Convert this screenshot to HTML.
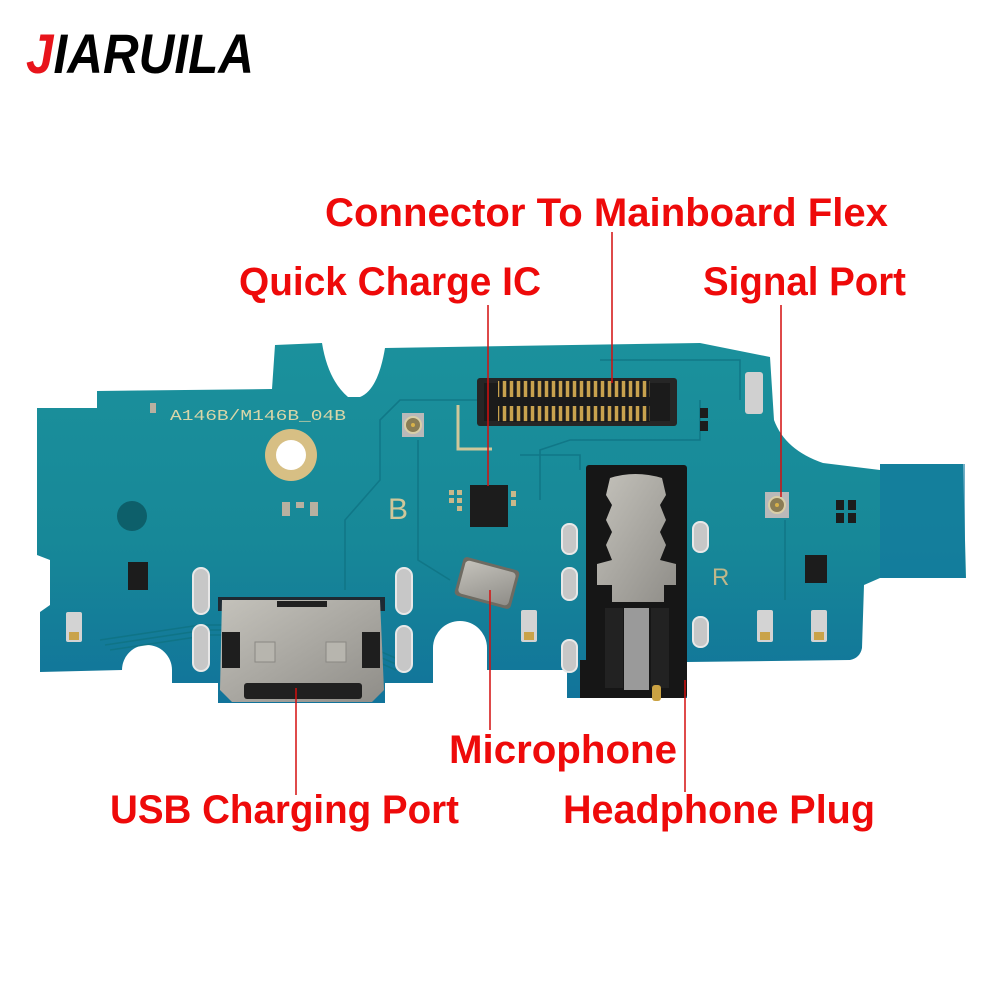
<!DOCTYPE html>
<html><head><meta charset="utf-8"><style>
html,body{margin:0;padding:0;background:#fff;}
svg{display:block}
.lb{font-family:"Liberation Sans Narrow","Liberation Sans",sans-serif;font-weight:bold;fill:#ee0a0a;}
</style></head><body>
<svg width="1000" height="1000" viewBox="0 0 1000 1000" xmlns="http://www.w3.org/2000/svg">
<defs>
<linearGradient id="bd" x1="0" y1="340" x2="0" y2="705" gradientUnits="userSpaceOnUse">
<stop offset="0" stop-color="#1b919c"/><stop offset="0.55" stop-color="#178898"/><stop offset="1" stop-color="#11739a"/>
</linearGradient>
<linearGradient id="mt" x1="0" y1="0" x2="1" y2="1">
<stop offset="0" stop-color="#c4c2bb"/><stop offset="1" stop-color="#8f8d88"/>
</linearGradient>
</defs>
<text x="26" y="73" font-family="Liberation Sans, sans-serif" font-weight="bold" font-style="italic" font-size="56" textLength="228" lengthAdjust="spacingAndGlyphs"><tspan fill="#e8141b">J</tspan><tspan fill="#000">IARUILA</tspan></text>

<path fill="url(#bd)" d="M37,408 L97,408 L97,391 L272,389 L275,345 L322,343 Q328,380 348,397 L360,397 Q378,390 385,348 L700,343 L770,357 L774,420 Q785,450 823,463 L880,470 L880,464 L963,464 L966,578 L880,578 L864,585 L862,648 Q860,658 850,660 L687,662 L687,698 L567,698 L567,670 L487,670 L487,648 A27,27 0 0 0 433,648 L433,683 L385,683 L385,703 L218,703 L218,683 L172,683 L172,670 A25,25 0 0 0 122,670 L40,672 L40,612 L50,605 L50,560 L37,555 Z"/>
<rect x="880" y="464" width="85" height="114" fill="#12789e" opacity="0.6"/>

<g fill="none" stroke="#0f7383" stroke-width="1.6" opacity="0.8">
<path d="M100,640 L200,625 L320,625 L400,660"/>
<path d="M105,645 L205,630 L318,630 L398,665"/>
<path d="M110,650 L210,635 L316,635 L396,670"/>
<path d="M345,590 L345,520 L380,480 L380,420 L400,400 L520,400"/>
<path d="M418,440 L418,560 L450,580"/>
<path d="M540,500 L540,450 L570,440 L700,440 L700,400"/>
<path d="M785,520 L785,600"/>
<path d="M600,360 L740,360 L740,400"/>
<path d="M520,455 L580,455 L580,470"/>
</g>

<text x="170" y="420" font-family="Liberation Mono, monospace" font-size="15" fill="#d9d6a8" textLength="176" lengthAdjust="spacingAndGlyphs">A146B/M146B_04B</text>
<text x="388" y="519" font-family="Liberation Sans, sans-serif" font-size="30" fill="#cfc79a">B</text>
<text x="712" y="585" font-family="Liberation Sans, sans-serif" font-size="24" fill="#bfb78a">R</text>
<path d="M458,405 L458,449 L492,449" stroke="#cfc79a" stroke-width="3" fill="none"/>

<circle cx="291" cy="455" r="26" fill="#d7bf84"/>
<circle cx="291" cy="455" r="15" fill="#fff"/>
<circle cx="132" cy="516" r="15" fill="#0d5f6a"/>

<rect x="477" y="378" width="200" height="48" rx="3" fill="#262626"/>
<rect x="484" y="383" width="186" height="38" fill="#1b1b1b"/>
<g fill="#c8a24e">
<rect x="498" y="381" width="152" height="16"/>
<rect x="498" y="406" width="152" height="15"/>
</g>
<g stroke="#1b1b1b" stroke-width="3.5">
<path d="M501,380V422M508,380V422M515,380V422M522,380V422M529,380V422M536,380V422M543,380V422M550,380V422M557,380V422M564,380V422M571,380V422M578,380V422M585,380V422M592,380V422M599,380V422M606,380V422M613,380V422M620,380V422M627,380V422M634,380V422M641,380V422M648,380V422"/>
</g>

<rect x="470" y="485" width="38" height="42" fill="#1c1c1c"/>
<g fill="#c9b88a"><rect x="449" y="490" width="5" height="5"/><rect x="457" y="490" width="5" height="5"/><rect x="449" y="498" width="5" height="5"/><rect x="457" y="498" width="5" height="5"/><rect x="457" y="506" width="5" height="5"/><rect x="511" y="491" width="5" height="6"/><rect x="511" y="500" width="5" height="6"/></g>

<rect x="402" y="413" width="22" height="24" fill="#b9b9b9"/>
<circle cx="413" cy="425" r="8" fill="#8a7d55" stroke="#d9cfa8" stroke-width="2"/>
<circle cx="413" cy="425" r="2" fill="#d8b24a"/>
<rect x="765" y="492" width="24" height="26" fill="#b9b9b9"/>
<circle cx="777" cy="505" r="8" fill="#8a7d55" stroke="#d9cfa8" stroke-width="2"/>
<circle cx="777" cy="505" r="2" fill="#d8b24a"/>
<rect x="745" y="372" width="18" height="42" rx="3" fill="#d0d0d0"/>

<rect x="128" y="562" width="20" height="28" fill="#1c1c1c"/>
<rect x="805" y="555" width="22" height="28" fill="#1c1c1c"/>
<g fill="#1c1c1c"><rect x="700" y="408" width="8" height="10"/><rect x="700" y="421" width="8" height="10"/><rect x="836" y="500" width="8" height="10"/><rect x="848" y="500" width="8" height="10"/><rect x="836" y="513" width="8" height="10"/><rect x="848" y="513" width="8" height="10"/></g>
<g fill="#b8b0a0"><rect x="282" y="502" width="8" height="14"/><rect x="296" y="502" width="8" height="6"/><rect x="310" y="502" width="8" height="14"/><rect x="150" y="403" width="6" height="10"/></g>

<rect x="580" y="660" width="20" height="38" fill="#161616"/>
<g fill="#c7c7c7" stroke="#e8e8e8" stroke-width="2">
<rect x="193" y="568" width="16" height="46" rx="8"/>
<rect x="193" y="625" width="16" height="46" rx="8"/>
<rect x="396" y="568" width="16" height="46" rx="8"/>
<rect x="396" y="626" width="16" height="46" rx="8"/>
<rect x="562" y="524" width="15" height="30" rx="7"/>
<rect x="562" y="568" width="15" height="32" rx="7"/>
<rect x="562" y="640" width="15" height="32" rx="7"/>
<rect x="693" y="522" width="15" height="30" rx="7"/>
<rect x="693" y="617" width="15" height="30" rx="7"/>
</g>
<g fill="#d3d3d3"><rect x="66" y="612" width="16" height="30" rx="2"/><rect x="521" y="610" width="16" height="32" rx="2"/><rect x="757" y="610" width="16" height="32" rx="2"/><rect x="811" y="610" width="16" height="32" rx="2"/></g>
<g fill="#c9a34a"><rect x="69" y="632" width="10" height="8"/><rect x="524" y="632" width="10" height="8"/><rect x="760" y="632" width="10" height="8"/><rect x="814" y="632" width="10" height="8"/></g>

<g transform="rotate(15 487 583)">
<rect x="458" y="563" width="58" height="40" rx="4" fill="#6e6b62"/>
<rect x="461" y="566" width="52" height="34" rx="4" fill="url(#mt)"/>
</g>

<rect x="218" y="597" width="167" height="14" fill="#1e2a33"/>
<path fill="url(#mt)" d="M222,600 L380,600 L384,690 L372,702 L232,702 L220,690 Z"/>
<rect x="222" y="632" width="18" height="36" fill="#1e1e1e"/>
<rect x="362" y="632" width="18" height="36" fill="#1e1e1e"/>
<rect x="244" y="683" width="118" height="16" rx="3" fill="#202020"/>
<g fill="#b7b5ae" stroke="#8a8883"><rect x="255" y="642" width="20" height="20"/><rect x="326" y="642" width="20" height="20"/></g>
<rect x="277" y="601" width="50" height="6" fill="#202020"/>

<rect x="586" y="465" width="101" height="233" rx="3" fill="#161616"/>
<path fill="url(#mt)" d="M610,478 Q635,470 662,478 L666,495 L660,505 L666,520 L660,532 L666,545 L660,560 L676,564 L676,585 L664,585 L664,602 L612,602 L612,585 L597,585 L597,564 L612,560 L606,545 L612,532 L606,520 L612,505 L606,495 Z"/>
<rect x="624" y="608" width="25" height="82" fill="#9a9a9a"/>
<rect x="605" y="608" width="18" height="80" fill="#222"/>
<rect x="651" y="608" width="18" height="80" fill="#222"/>
<rect x="652" y="685" width="9" height="16" rx="3" fill="#caa243"/>

<g stroke="#d40f0f" stroke-width="1.5">
<line x1="612" y1="232" x2="612" y2="383"/>
<line x1="488" y1="305" x2="488" y2="486"/>
<line x1="781" y1="305" x2="781" y2="497"/>
<line x1="296" y1="688" x2="296" y2="795"/>
<line x1="490" y1="590" x2="490" y2="730"/>
<line x1="685" y1="680" x2="685" y2="792"/>
</g>

<text class="lb" x="325" y="226" font-size="40" textLength="563" lengthAdjust="spacingAndGlyphs">Connector To Mainboard Flex</text>
<text class="lb" x="239" y="295" font-size="40" textLength="302" lengthAdjust="spacingAndGlyphs">Quick Charge IC</text>
<text class="lb" x="703" y="295" font-size="40" textLength="203" lengthAdjust="spacingAndGlyphs">Signal Port</text>
<text class="lb" x="449" y="763" font-size="40" textLength="228" lengthAdjust="spacingAndGlyphs">Microphone</text>
<text class="lb" x="110" y="823" font-size="40" textLength="349" lengthAdjust="spacingAndGlyphs">USB Charging Port</text>
<text class="lb" x="563" y="823" font-size="40" textLength="312" lengthAdjust="spacingAndGlyphs">Headphone Plug</text>
</svg>
</body></html>
